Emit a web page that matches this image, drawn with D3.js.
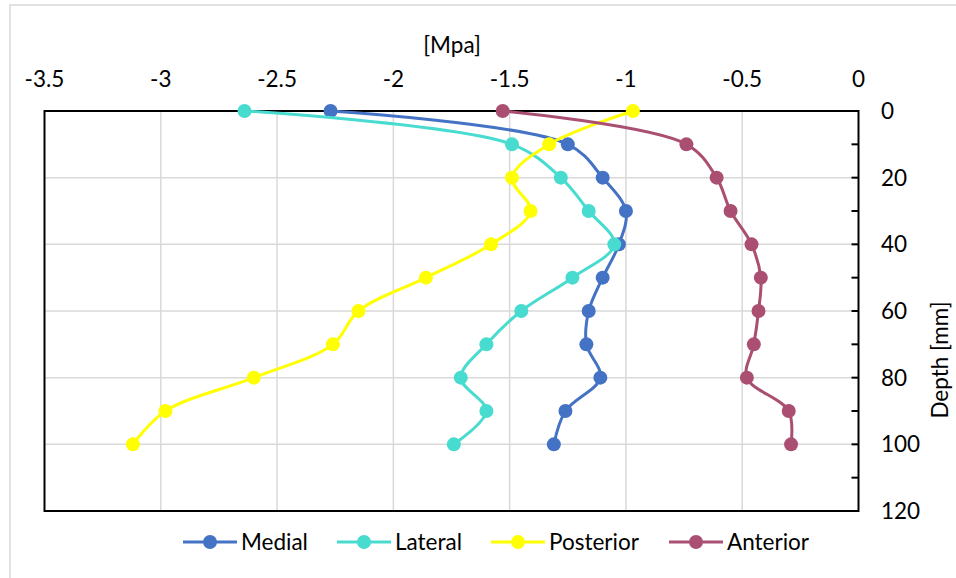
<!DOCTYPE html>
<html>
<head>
<meta charset="utf-8">
<script src="https://cdn.jsdelivr.net/npm/d3@7"></script>
<style>
  html, body { margin: 0; padding: 0; background: #fff; }
  svg { display: block; font-family: Lato, "Noto Sans", sans-serif; }
</style>
</head>
<body>
<svg id="chart"></svg>
<script>
// depth in mm (vertical axis)
const depths = [0, 10, 20, 30, 40, 50, 60, 70, 80, 90, 100];

// stress in MPa
const medial = [-2.27, -1.25, -1.10, -1.00, -1.03, -1.10, -1.16, -1.17, -1.11, -1.26, -1.31];
const lateral = [-2.64, -1.49, -1.28, -1.16, -1.05, -1.23, -1.45, -1.60, -1.71, -1.60, -1.74];
const posterior = [-0.97, -1.33, -1.49, -1.41, -1.58, -1.86, -2.15, -2.26, -2.60, -2.98, -3.12];
const anterior = [-1.53, -0.74, -0.61, -0.55, -0.46, -0.42, -0.43, -0.45, -0.48, -0.30, -0.29];

const seriesNames = ["Medial", "Lateral", "Posterior", "Anterior"];
const seriesColors = ["#4472C4", "#48DBCF", "#FFFF00", "#AA4F72"];
const seriesValues = [medial, lateral, posterior, anterior];

const xTicks = [-3.5, -3, -2.5, -2, -1.5, -1, -0.5, 0];
const yLabelTicks = [0, 20, 40, 60, 80, 100, 120];
const yMinorTicks = [10, 30, 50, 70, 90, 110];

const width = 956, height = 578;
const plot = { left: 44.5, right: 858.5, top: 111, bottom: 511 };
const fontSize = 22.5;

const svg = d3.select("#chart").attr("width", width).attr("height", height);

// outer chart frame (cropped at right/bottom in the original)
svg.append("path")
  .attr("d", `M10,${height} V5 H${width}`)
  .attr("fill", "none")
  .attr("stroke", "#D9D9D9")
  .attr("stroke-width", 1.5);

const x = d3.scaleLinear().domain([-3.5, 0]).range([plot.left, plot.right]);
const y = d3.scaleLinear().domain([0, 120]).range([plot.top, plot.bottom]);

// gridlines
svg.append("g")
  .selectAll("line")
  .data(xTicks.slice(1, -1))
  .join("line")
  .attr("x1", d => x(d)).attr("x2", d => x(d))
  .attr("y1", plot.top).attr("y2", plot.bottom)
  .attr("stroke", "#D9D9D9").attr("stroke-width", 1.5);

svg.append("g")
  .selectAll("line")
  .data(yLabelTicks.slice(1, -1))
  .join("line")
  .attr("x1", plot.left).attr("x2", plot.right)
  .attr("y1", d => y(d)).attr("y2", d => y(d))
  .attr("stroke", "#D9D9D9").attr("stroke-width", 1.5);

// plot frame
svg.append("rect")
  .attr("x", plot.left).attr("y", plot.top)
  .attr("width", plot.right - plot.left)
  .attr("height", plot.bottom - plot.top)
  .attr("fill", "none")
  .attr("stroke", "#000")
  .attr("stroke-width", 2);

// right axis ticks (inside) and labels
svg.append("g")
  .selectAll("line")
  .data(yLabelTicks.concat(yMinorTicks))
  .join("line")
  .attr("x1", plot.right - 7).attr("x2", plot.right)
  .attr("y1", d => y(d)).attr("y2", d => y(d))
  .attr("stroke", "#000").attr("stroke-width", 2);

svg.append("g")
  .selectAll("text")
  .data(yLabelTicks)
  .join("text")
  .attr("x", 881)
  .attr("y", d => y(d))
  .attr("dy", "0.36em")
  .attr("font-size", fontSize)
  .attr("fill", "#000")
  .text(d => d);

// top axis labels
svg.append("g")
  .selectAll("text")
  .data(xTicks)
  .join("text")
  .attr("x", d => x(d))
  .attr("y", 87)
  .attr("text-anchor", "middle")
  .attr("font-size", fontSize)
  .attr("fill", "#000")
  .text(d => d);

// axis titles
svg.append("text")
  .attr("x", 452).attr("y", 53)
  .attr("text-anchor", "middle")
  .attr("font-size", fontSize)
  .text("[Mpa]");

svg.append("text")
  .attr("transform", "translate(948,360) rotate(-90)")
  .attr("text-anchor", "middle")
  .attr("font-size", fontSize)
  .text("Depth [mm]");

// series lines + markers
const line = d3.line()
  .x(d => x(d.v))
  .y(d => y(d.depth))
  .curve(d3.curveCatmullRom.alpha(0.5));

seriesValues.forEach((vals, i) => {
  const pts = vals.map((v, j) => ({ v, depth: depths[j] }));
  const g = svg.append("g");
  g.append("path")
    .datum(pts)
    .attr("d", line)
    .attr("fill", "none")
    .attr("stroke", seriesColors[i])
    .attr("stroke-width", 3)
    .attr("stroke-linejoin", "round");
  g.selectAll("circle")
    .data(pts)
    .join("circle")
    .attr("cx", d => x(d.v))
    .attr("cy", d => y(d.depth))
    .attr("r", 7)
    .attr("fill", seriesColors[i]);
});

// legend
const legendX = [183, 337, 491, 669];
const legendY = 542;
const legend = svg.append("g")
  .selectAll("g")
  .data(seriesNames)
  .join("g")
  .attr("transform", (d, i) => `translate(${legendX[i]},${legendY})`);

legend.append("line")
  .attr("x1", 0).attr("x2", 54)
  .attr("stroke", (d, i) => seriesColors[i])
  .attr("stroke-width", 3);
legend.append("circle")
  .attr("cx", 27).attr("r", 7)
  .attr("fill", (d, i) => seriesColors[i]);
legend.append("text")
  .attr("x", 58)
  .attr("dy", "0.36em")
  .attr("font-size", fontSize)
  .text(d => d);
</script>
</body>
</html>
